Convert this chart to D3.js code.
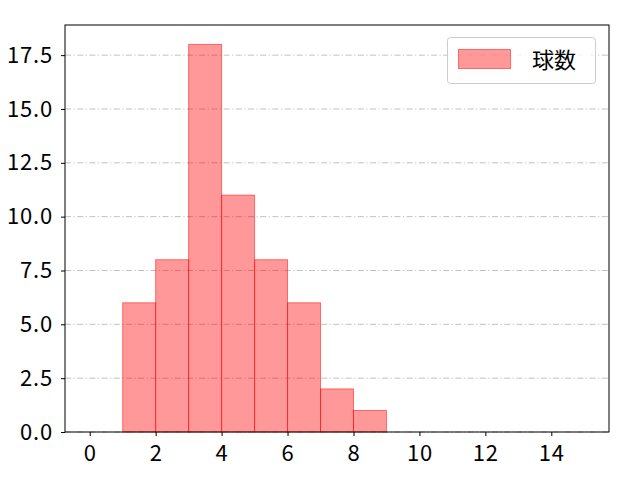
<!DOCTYPE html>
<html>
<head>
<meta charset="utf-8">
<script src="https://cdn.jsdelivr.net/npm/d3@7"></script>
<style>
  body { margin: 0; background: #fff; }
  svg text { font-family: "Noto Sans CJK JP", "DejaVu Sans", sans-serif; }
</style>
</head>
<body>
<div id="chart"></div>
<script>
// histogram bins (left edge) and counts
const binStarts = [0, 1, 2, 3, 4, 5, 6, 7, 8, 9, 10, 11, 12, 13, 14];
const counts = [0, 6, 8, 18, 11, 8, 6, 2, 1, 0, 0, 0, 0, 0, 0];
const xTicks = [0, 2, 4, 6, 8, 10, 12, 14];
const yTicks = [0, 2.5, 5, 7.5, 10, 12.5, 15, 17.5];
const seriesName = "球数";

const WIDTH = 640;
const HEIGHT = 480;
const LEFT = 65, RIGHT = 609, TOP = 25, BOTTOM = 432;

const svg = d3.select("#chart")
    .append("svg")
    .attr("width", WIDTH)
    .attr("height", HEIGHT);

const xScale = d3.scaleLinear().domain([-0.75, 15.75]).range([LEFT, RIGHT]);
const yScale = d3.scaleLinear().domain([0, 18.9]).range([BOTTOM, TOP]);

// grid lines
svg.append("g")
    .selectAll("line")
    .data(yTicks)
    .enter().append("line")
    .attr("x1", LEFT)
    .attr("x2", RIGHT)
    .attr("y1", d => yScale(d))
    .attr("y2", d => yScale(d))
    .attr("stroke", "#b0b0b0")
    .attr("stroke-width", 0.8)
    .attr("stroke-dasharray", "6,2.5,1.2,2.5");

// bars
svg.append("g")
    .selectAll("rect")
    .data(binStarts.map((b, i) => ({ start: b, count: counts[i] })).filter(d => d.count > 0))
    .enter().append("rect")
    .attr("x", d => xScale(d.start))
    .attr("y", d => yScale(d.count))
    .attr("width", d => xScale(d.start + 1) - xScale(d.start))
    .attr("height", d => yScale(0) - yScale(d.count))
    .attr("fill", "rgba(255,0,0,0.4)")
    .attr("stroke", "rgba(255,0,0,0.5)")
    .attr("stroke-width", 1);

// axes
const xAxis = svg.append("g")
    .attr("transform", "translate(0," + BOTTOM + ")")
    .call(d3.axisBottom(xScale).tickValues(xTicks).tickSize(4).tickPadding(9).tickFormat(d3.format("d")));
const yAxis = svg.append("g")
    .attr("transform", "translate(" + LEFT + ",0)")
    .call(d3.axisLeft(yScale).tickValues(yTicks).tickSize(4).tickPadding(8).tickFormat(d3.format(".1f")));

[xAxis, yAxis].forEach(a => {
    a.select(".domain").remove();
    a.selectAll("text").attr("font-size", 22).attr("fill", "#000")
        .attr("letter-spacing", 0.8)
        .style("font-family", "'Noto Sans CJK JP', sans-serif");
    a.selectAll("line").attr("stroke", "#000").attr("stroke-width", 1);
});

// frame
svg.append("rect")
    .attr("x", LEFT)
    .attr("y", TOP)
    .attr("width", RIGHT - LEFT)
    .attr("height", BOTTOM - TOP)
    .attr("fill", "none")
    .attr("stroke", "#000")
    .attr("stroke-width", 1);

// legend
const legend = svg.append("g");
legend.append("rect")
    .attr("x", 447.5)
    .attr("y", 37.5)
    .attr("width", 148)
    .attr("height", 46)
    .attr("rx", 3)
    .attr("fill", "rgba(255,255,255,0.8)")
    .attr("stroke", "#cccccc");
legend.append("rect")
    .attr("x", 458.5)
    .attr("y", 49.5)
    .attr("width", 52)
    .attr("height", 19)
    .attr("fill", "rgba(255,0,0,0.4)")
    .attr("stroke", "rgba(255,0,0,0.5)");
legend.append("text")
    .attr("x", 532)
    .attr("y", 68)
    .attr("font-size", 22)
    .attr("fill", "#000")
    .text(seriesName);
</script>
</body>
</html>
